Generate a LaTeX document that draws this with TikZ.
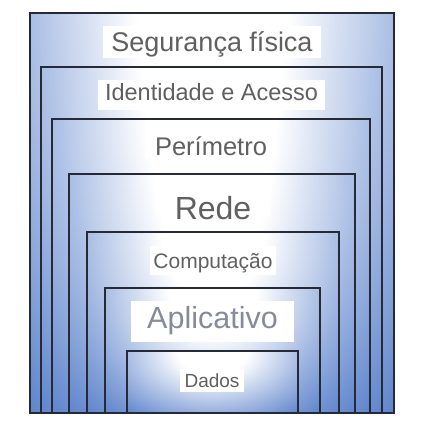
\documentclass[tikz,border=0pt]{standalone}
\usepackage{fontspec}
\setmainfont{Liberation Sans}
\usepackage{xcolor}
\definecolor{layerblue}{RGB}{68, 112, 196}
\definecolor{layerline}{RGB}{38, 42, 54}
\definecolor{labelgray}{RGB}{96, 96, 96}
\definecolor{appgray}{RGB}{134, 139, 156}
\usepackage{tikz}
\pgfdeclareradialshading{layerglow}{\pgfpointorigin}{color(0bp)=(white); color(6bp)=(white); color(25bp)=(layerblue); color(50bp)=(layerblue)}

\begin{document}
\begin{tikzpicture}[
  x=1pt, y=-1pt,
  layer/.style={draw=layerline, line width=1.4pt},
  tag/.style={fill=white, inner sep=0pt, text=labelgray, text depth=0pt}
]
  \useasboundingbox (0,0) rectangle (421,421);

  % Layers, outermost first
  \foreach \l/\t/\r in {30/13/394, 41/67/382, 52/119/370, 69/174/355, 87/232/339, 105/288/320, 127/351/298} {
    \fill[layerblue] (\l,\t) rectangle (\r,413);
    \begin{scope}
      \clip (\l,\t) rectangle (\r,413);
      \shade[shading=layerglow] ({(\l+\r)/2},\t) ellipse ({0.85*(\r-\l)*1pt} and {1.5*(413-\t)*1pt});
    \end{scope}
    \draw[layer] (\l,\t) rectangle (\r,413);
  }

  % Labels
  \node[tag, minimum width=218pt, minimum height=32pt, text height=19.3pt, font=\fontsize{27}{31}\selectfont] (fisica) at (212,42) {Segurança física};
  \node[tag, minimum width=227pt, minimum height=30pt, text height=16.8pt, text depth=5pt, font=\fontsize{23.5}{27}\selectfont] (acesso) at (211.5,95) {Identidade e Acesso};
  \node[tag, minimum width=130pt, minimum height=23pt, text height=18.3pt, font=\fontsize{25.5}{29}\selectfont] (perimetro) at (211,146.5) {Perímetro};
  \node[tag, minimum width=114pt, minimum height=22pt, text height=20pt, font=\fontsize{32}{36}\selectfont] (rede) at (213,204) {\raisebox{-5.5pt}[20pt][0pt]{Rede}};
  \node[tag, minimum width=126pt, minimum height=29pt, text height=15pt, font=\fontsize{21}{24}\selectfont] (computacao) at (213,260.5) {Computação};
  \node[tag, minimum width=163pt, minimum height=41pt, text=appgray, text height=21.8pt, text depth=8pt, font=\fontsize{30.5}{35}\selectfont] (aplicativo) at (212.5,321.5) {Aplicativo};
  \node[tag, minimum width=64pt, minimum height=23pt, text height=13.6pt, font=\fontsize{19}{22}\selectfont] (dados) at (212,380.5) {Dados};
\end{tikzpicture}
\end{document}
